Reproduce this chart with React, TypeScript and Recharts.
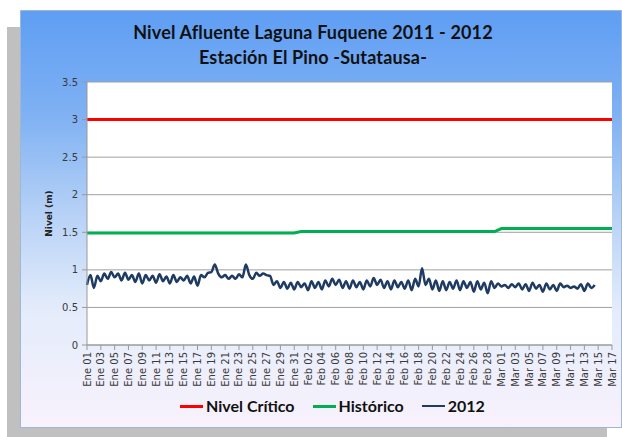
import React from "react";
import { LineChart, Line, XAxis, YAxis, CartesianGrid } from "recharts";

const tickLabels = [
  "Ene 01","Ene 03","Ene 05","Ene 07","Ene 09","Ene 11","Ene 13","Ene 15","Ene 17","Ene 19",
  "Ene 21","Ene 23","Ene 25","Ene 27","Ene 29","Ene 31","Feb 02","Feb 04","Feb 06","Feb 08",
  "Feb 10","Feb 12","Feb 14","Feb 16","Feb 18","Feb 20","Feb 22","Feb 24","Feb 26","Feb 28",
  "Mar 01","Mar 03","Mar 05","Mar 07","Mar 09","Mar 11","Mar 13","Mar 15","Mar 17",
];
const tickDays = tickLabels.map((_, i) => i * 2);

const yTicks = [0, 0.5, 1, 1.5, 2, 2.5, 3, 3.5];

// Nivel Crítico (constant)
const criticoData = [
  { day: 0, v: 3 },
  { day: 76, v: 3 },
];

// Histórico (steps)
const historicoData = [
  { day: 0, v: 1.49 },
  { day: 30, v: 1.49 },
  { day: 31, v: 1.51 },
  { day: 59, v: 1.51 },
  { day: 60, v: 1.55 },
  { day: 76, v: 1.55 },
];

// 2012 — two readings per day, starting Ene 01
const values2012 = [
  0.80, 0.93, 0.76, 0.92, 0.85, 0.95, 0.88, 0.97, 0.90, 0.95,
  0.86, 0.96, 0.87, 0.93, 0.84, 0.95, 0.82, 0.93, 0.86, 0.92,
  0.83, 0.94, 0.85, 0.91, 0.82, 0.93, 0.84, 0.90, 0.86, 0.92,
  0.82, 0.91, 0.79, 0.93, 0.90, 0.96, 0.97, 1.07, 0.95, 0.90,
  0.93, 0.88, 0.92, 0.88, 0.94, 0.90, 1.07, 0.93, 0.88, 0.96,
  0.92, 0.95, 0.93, 0.92, 0.80, 0.85, 0.76, 0.84, 0.75, 0.83,
  0.74, 0.84, 0.77, 0.82, 0.73, 0.85, 0.76, 0.84, 0.74, 0.86,
  0.78, 0.88, 0.80, 0.87, 0.76, 0.85, 0.75, 0.86, 0.77, 0.84,
  0.74, 0.86, 0.78, 0.89, 0.80, 0.87, 0.76, 0.85, 0.74, 0.86,
  0.77, 0.84, 0.75, 0.86, 0.73, 0.88, 0.78, 1.02, 0.80, 0.88,
  0.74, 0.86, 0.72, 0.85, 0.73, 0.84, 0.75, 0.86, 0.73, 0.85,
  0.76, 0.84, 0.71, 0.85, 0.74, 0.83, 0.69, 0.85, 0.76, 0.82,
  0.78, 0.80, 0.76, 0.81, 0.77, 0.82, 0.74, 0.81, 0.72, 0.83,
  0.75, 0.80, 0.71, 0.82, 0.74, 0.80, 0.72, 0.82, 0.77, 0.79,
  0.76, 0.78, 0.75, 0.81, 0.72, 0.82, 0.76, 0.80,
];
const data2012 = values2012.map((v, i) => ({ day: i / 2, v }));

const XTick = (props: any) => {
  const { x, y, payload } = props;
  const label = tickLabels[Math.round(payload.value / 2)];
  return (
    <g transform={`translate(${x},${y})`}>
      <text
        transform="rotate(-90)"
        x={0}
        y={0}
        dy="0.35em"
        textAnchor="end"
        fontSize={10}
        fontFamily="DejaVu Sans, Verdana, sans-serif"
        fill="#3a3a3a"
      >
        {label}
      </text>
    </g>
  );
};

const legendItems = [
  { name: "Nivel Crítico", color: "#ff0000", h: 3 },
  { name: "Histórico", color: "#00b050", h: 3 },
  { name: "2012", color: "#1f3b63", h: 2 },
];

export default function App() {
  return (
    <div style={{ position: "absolute", left: 0, top: 0, width: 622, height: 437, background: "#fff", overflow: "hidden" }}>
      <div style={{ position: "absolute", left: 7, top: 27, width: 600, height: 410, background: "#c0c0c0" }} />
      <div
        style={{
          position: "absolute",
          left: 20,
          top: 10,
          width: 600,
          height: 416,
          border: "1px solid #9fb6d6",
          background: "linear-gradient(to bottom, #5f9ef4 0%, #7fb1f3 25%, #b9d3f6 50%, #e4ecfb 72%, #f8f2fc 100%)",
        }}
      />
      <div
        style={{
          position: "absolute",
          left: 2,
          top: 20,
          width: 622,
          textAlign: "center",
          fontFamily: "Lato, 'Open Sans', sans-serif",
          fontWeight: 700,
          fontSize: 18,
          lineHeight: "25px",
          color: "#111",
          letterSpacing: 0.15,
        }}
      >
        <div>Nivel Afluente Laguna Fuquene 2011 - 2012</div>
        <div>Estación El Pino -Sutatausa-</div>
      </div>
      <div style={{ position: "absolute", left: 0, top: 0 }}>
        <LineChart width={622} height={437} margin={{ top: 82, right: 10, left: 47, bottom: 42 }}>
          <CartesianGrid horizontal vertical={false} stroke="#a0a0a0" fill="#ffffff" />
          <XAxis
            dataKey="day"
            type="number"
            domain={[0, 76]}
            ticks={tickDays}
            interval={0}
            tick={<XTick />}
            tickSize={5}
            tickMargin={2}
            height={50}
            stroke="#999"
            allowDuplicatedCategory={false}
          />
          <YAxis
            type="number"
            domain={[0, 3.5]}
            ticks={yTicks}
            interval={0}
            width={40}
            tickSize={5}
            tickMargin={4}
            stroke="#999"
            tick={{ fontSize: 10, fill: "#3a3a3a", fontFamily: "DejaVu Sans, Verdana, sans-serif" }}
            label={{
              value: "Nivel (m)",
              angle: -90,
              position: "insideLeft",
              offset: 0,
              dx: 2,
              style: { fontSize: 9, fontWeight: 700, fill: "#222", textAnchor: "middle", fontFamily: "DejaVu Sans, Verdana, sans-serif" },
            }}
          />
          <Line data={criticoData} dataKey="v" stroke="#ff0000" strokeWidth={3} dot={false} isAnimationActive={false} />
          <Line data={historicoData} dataKey="v" stroke="#00b050" strokeWidth={3} dot={false} isAnimationActive={false} />
          <Line data={data2012} type="monotone" dataKey="v" stroke="#1f3b63" strokeWidth={2.5} dot={false} isAnimationActive={false} />
        </LineChart>
      </div>
      <div
        style={{
          position: "absolute",
          left: 180,
          top: 395,
          display: "flex",
          alignItems: "center",
          fontFamily: "Lato, 'Open Sans', sans-serif",
          fontWeight: 700,
          fontSize: 16,
          color: "#111",
          lineHeight: "22px",
        }}
      >
        {legendItems.map((it) => (
          <div key={it.name} style={{ display: "flex", alignItems: "center", marginRight: 18 }}>
            <div style={{ width: 23, height: it.h, background: it.color, marginRight: 3 }} />
            <span>{it.name}</span>
          </div>
        ))}
      </div>
    </div>
  );
}
